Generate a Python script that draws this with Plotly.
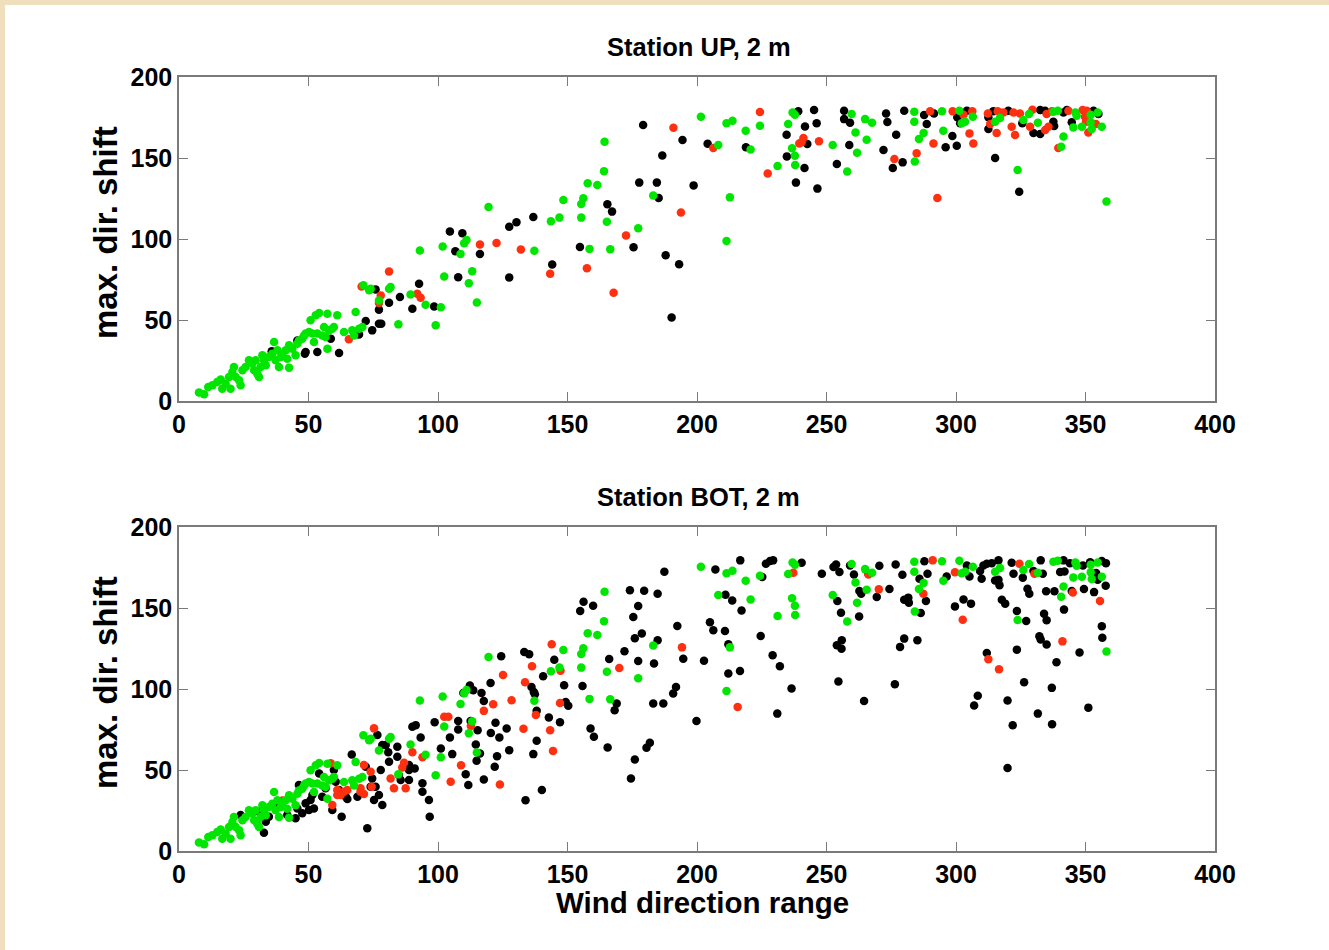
import plotly.graph_objects as go

# ---------------- data ----------------
# green series (identical in both panels)
GREEN = [
    (7.7,5.2),(9.7,4.1),(11.3,8.7),(12.9,9.7),(14.8,11.8),(16.1,13.2),(16.7,7.6),(18.0,10.7),(19.3,14.8),(19.9,7.6),
    (20.6,17.9),(21.2,21.0),(21.9,14.8),(23.2,12.8),(23.8,9.7),(24.5,19.0),(25.7,21.0),(27.0,25.1),(28.3,23.1),(29.0,19.0),
    (29.6,25.1),(30.2,16.9),(30.9,14.8),(31.5,21.0),(32.2,28.2),(32.8,25.1),(33.5,22.0),(34.7,27.2),(36.0,29.2),(36.7,36.4),
    (37.3,25.1),(38.0,31.3),(38.6,21.0),(39.3,27.2),(39.9,29.2),(41.2,31.3),(41.8,26.1),(42.5,34.4),(42.5,20.6),(43.8,32.3),
    (45.0,28.2),(45.7,35.4),(46.3,37.4),(47.6,38.5),(48.3,40.5),(48.9,41.6),(50.2,42.6),(50.8,49.8),(51.5,41.6),(52.1,36.4),
    (52.8,52.9),(53.4,41.6),(54.1,54.3),(55.3,40.5),(56.0,45.7),(56.6,39.5),(57.3,53.9),(57.3,32.3),(57.9,43.6),(59.2,44.6),
    (59.8,45.7),(61.1,52.9),(63.7,42.6),(66.9,43.6),(67.6,40.5),(68.2,54.9),(69.5,44.6),(70.8,45.7),(71.2,71.4),(73.4,68.3),
    (74.0,69.3),(77.2,62.1),(81.1,69.3),(81.7,70.3),(84.7,47.3),(89.4,65.8),(95.2,59.4),(99.1,46.7),
    (93.0,92.9),(101.1,57.9),(101.8,95.3),(102.4,76.8),(108.7,90.8),(110.1,97.4),(111.0,99.4),(111.9,72.7),(113.2,80.1),(115.0,60.8),
    (119.5,119.8),(137.2,92.7),(143.6,110.9),(146.9,113.2),(148.4,124.1),(155.3,113.2),(155.3,121.6),(156.1,125.1),(157.8,134.4),(158.5,93.9),
    (161.5,133.3),(164.1,141.8),(164.3,160.1),(165.2,110.7),(166.5,93.7),(177.3,106.6),(183.1,126.8),(201.5,175.5),(208.2,158.0),(211.4,98.8),
    (211.4,171.4),(212.7,125.7),(213.7,173.0),(218.8,166.8),(220.7,155.3),(224.3,169.9),(231.1,145.1),(235.2,171.0),(236.7,156.0),(236.9,178.1),
    (237.8,176.7),(237.8,151.4),(237.9,145.7),
    (259.7,177.1),(252.4,158.0),(258.0,141.6),(261.2,165.8),(261.8,153.3),(264.9,174.0),(265.5,161.3),(267.6,171.8),(283.9,178.6),(283.9,172.4),
    (284.1,147.9),(285.7,161.7),(287.5,165.4),(294.6,178.8),(295.1,166.8),(301.3,179.2),(302.2,171.4),(303.5,172.4),(306.5,175.5),(315.1,172.4),
    (317.0,174.7),(323.8,142.6),(326.0,173.4),(328.2,177.1),(331.6,171.8),(337.6,178.6),(339.3,179.2),(340.6,157.0),(341.5,163.3),(345.3,168.9),
    (346.1,178.1),(346.6,176.1),(348.6,169.3),(352.0,176.7),(352.0,172.0),(352.4,167.9),(354.7,178.1),(356.3,169.3),(358.1,123.1),
]

UP_BLACK = [
    (45.7,37.4),(48.9,30.2),(53.4,30.2),(58.6,38.5),(61.8,29.6),(69.5,41.1),(72.1,49.4),(74.6,43.6),(77.2,47.7),(78.1,47.7),
    (77.2,56.4),(75.9,68.9),(81.1,60.7),(85.3,64.2),(90.1,57.0),(92.7,72.4),(98.5,58.4),(35.8,30.7),(48.6,29.2),
    (104.6,104.6),(106.7,92.4),(107.8,76.4),(109.4,103.5),(116.2,90.8),(127.5,76.2),(127.5,107.5),(130.3,110.3),(136.8,113.6),(144.1,84.2),
    (154.8,95.1),(165.4,121.4),(167.2,116.9),(175.5,94.9),(177.7,134.8),(179.2,170.3),(184.5,134.8),(185.2,125.3),(186.6,151.6),(187.9,90.0),
    (190.2,51.6),(193.1,84.4),(194.4,161.1),(198.7,133.1),(204.1,158.8),(218.9,156.6),(234.6,164.4),(234.7,151.0),(238.2,134.8),(239.1,178.8),
    (241.7,169.5),(242.6,158.6),(241.5,143.8),(245.2,179.6),(246.2,171.4),(246.5,131.1),(254.0,146.3),(256.8,179.2),(256.8,174.0),(259.1,171.8),
    (258.8,158.0),(272.0,154.9),(273.0,177.5),(273.5,172.2),(276.9,164.4),(275.6,143.8),(279.4,147.3),(280.0,179.2),(287.7,176.5),(288.7,171.0),
    (291.5,177.5),(296.0,156.6),(298.6,163.6),(300.3,157.6),(300.5,175.1),(301.6,171.4),(304.2,179.2),(312.5,175.1),(312.5,167.9),(314.4,178.8),
    (315.1,150.0),(320.2,179.2),(324.4,129.2),(325.6,171.4),(329.9,165.4),(332.5,164.8),(332.5,179.6),(334.4,179.2),(337.9,169.7),(341.5,178.1),
    (342.8,179.6),(344.7,172.0),(353.1,179.2),(355.0,177.1),(337.6,172.4),
]

UP_RED = [
    (65.6,38.1),(70.5,70.7),(81.1,80.0),(77.9,65.2),(77.2,60.5),(92.0,66.2),(93.3,63.7),(116.2,96.6),(122.6,97.6),(132.0,93.5),
    (143.3,78.5),(157.5,82.0),(167.8,66.8),(172.6,102.1),(190.9,168.7),(193.8,116.3),(206.3,156.2),(224.3,178.4),(227.3,140.5),(239.5,159.0),
    (241.1,162.3),(240.4,159.7),(247.1,160.3),(276.2,149.4),(284.8,152.9),(290.0,178.8),(291.3,159.0),(292.8,125.3),(298.7,178.8),(302.9,176.7),
    (305.2,165.2),(306.3,178.8),(306.7,159.0),(312.3,177.5),(313.2,171.0),(315.7,165.4),(316.1,178.8),(318.3,178.1),(321.5,169.3),(322.2,178.1),
    (322.8,164.2),(324.7,177.5),(328.6,169.3),(329.5,179.8),(334.4,167.3),(335.0,177.1),(335.7,169.3),(337.0,178.8),(339.5,156.2),(343.4,179.2),
    (348.9,179.6),(350.5,179.2),(350.2,172.4),(351.1,165.8),(354.0,171.0),(349.8,175.5),
]

BOT_BLACK = [
    (23.8,22.2),(30.9,24.3),(32.8,11.3),(33.5,18.1),(34.7,21.2),(38.6,28.4),(41.8,22.2),(45.0,20.2),(45.7,26.3),(46.3,40.7),
    (47.6,23.3),(48.9,29.4),(50.2,25.3),(50.8,31.5),(51.5,34.6),(52.1,26.3),(54.1,47.9),(55.3,33.5),(56.6,38.7),(59.2,25.3),
    (59.8,50.0),(60.5,42.8),(61.8,37.6),(62.8,21.2),(64.4,33.5),(65.0,32.1),(66.7,59.6),(68.9,33.5),(72.1,52.0),(72.7,14.0),
    (74.0,39.7),(75.3,31.5),(75.9,39.7),(76.6,71.6),(77.2,34.6),(77.9,50.0),(78.5,65.4),(78.5,28.4),(79.8,65.4),(80.8,60.9),
    (81.1,55.1),(84.3,64.4),(84.3,58.2),(85.6,43.8),(88.8,43.8),(88.8,53.1),(90.1,76.7),(91.0,51.0),(91.4,77.7),(93.3,70.1),
    (94.0,41.8),(94.0,36.6),(96.5,31.5),(96.8,21.2),(88.8,50.0),(84.9,46.9),(74.6,44.8),
    (98.7,79.5),(101.1,63.3),(104.6,70.0),(105.5,59.8),(107.8,80.3),(107.8,75.0),(109.8,97.6),(110.7,47.4),(111.7,40.7),(112.3,102.1),
    (112.6,80.3),(113.6,99.2),(114.6,65.7),(114.9,55.7),(115.3,74.6),(116.2,60.2),(116.8,97.6),(117.7,92.6),(117.7,44.1),(120.3,103.7),
    (120.4,72.9),(121.9,52.0),(122.2,79.1),(122.8,58.5),(123.7,70.0),(124.4,120.2),(126.5,75.6),(127.5,62.2),(133.8,31.4),(133.3,122.9),
    (135.2,121.4),(136.1,101.3),(137.0,98.2),(137.4,96.8),(138.1,86.5),(136.8,59.8),(138.1,68.0),(140.1,37.6),(140.6,107.9),(142.8,82.4),
    (144.9,118.1),(147.1,79.5),(148.7,102.3),(149.3,92.0),(150.3,89.6),(154.9,148.1),(156.2,153.9),(155.8,101.9),(158.9,75.6),(159.9,151.4),
    (160.2,70.5),(165.5,63.9),(166.1,118.5),(168.2,86.9),(169.0,91.0),(172.0,123.3),(174.1,160.9),(174.5,44.8),(175.4,144.4),(176.0,56.5),
    (177.3,117.3),(177.3,151.2),(176.0,131.3),(178.7,134.2),(179.6,160.7),(180.5,63.7),(181.8,66.8),(183.1,91.0),(183.4,115.7),(184.8,130.1),
    (184.8,158.8),(187.0,91.0),(187.4,172.4),(190.8,97.2),(191.9,101.3),(192.4,138.9),(194.7,118.7),(199.8,80.3),(202.7,117.5),(205.0,141.2),
    (206.3,136.2),(207.1,173.8),(210.8,135.8),(211.0,158.2),(212.1,109.5),(212.1,127.6),(213.6,154.7),(216.6,111.1),(217.2,148.5),(216.7,179.4),
    (224.6,132.7),(225.2,169.1),(226.6,177.3),(228.2,179.0),(229.4,179.4),(229.2,120.8),(232.0,114.0),(231.0,84.8),(236.5,100.3),
    (240.4,177.9),(248.2,171.1),(252.7,175.3),(253.7,176.9),(255.0,172.2),(254.2,154.3),(255.6,147.1),(254.0,127.0),(255.9,130.1),(255.8,124.9),
    (254.6,104.6),(259.1,176.3),(260.6,170.7),(262.7,160.5),(263.4,158.8),(262.6,144.8),(264.5,92.6),(266.2,171.1),(269.4,156.8),(270.4,176.1),
    (274.3,161.7),(276.7,176.9),(276.4,102.9),(278.4,126.0),(279.3,170.5),(280.0,131.1),(280.0,155.1),(281.6,156.4),(281.8,153.3),(285.1,130.1),
    (285.9,168.1),(286.4,146.9),(287.8,178.8),(288.4,154.3),(289.0,171.1),(296.4,169.5),(299.6,151.0),(302.9,155.3),(304.2,176.3),(305.2,169.5),
    (305.8,152.7),(307.0,89.8),(308.4,95.9),(309.9,168.1),(309.3,172.8),(310.6,176.3),(311.9,177.3),(311.9,122.2),(313.8,177.7),(316.4,179.4),
    (315.1,167.0),(316.8,164.0),(316.4,167.5),(317.7,155.1),(319.0,152.7),(319.9,92.9),(319.9,51.3),(321.5,177.9),(321.9,77.6),(322.2,171.1),
    (323.5,148.1),(323.5,124.3),(325.8,168.7),(326.3,104.2),(327.1,142.0),(327.6,161.9),(328.3,158.8),(329.9,172.8),(331.6,84.8),(332.2,132.5),
    (332.7,130.5),(332.7,179.4),(333.5,171.1),(334.0,146.5),(335.0,142.4),(334.8,160.3),(335.0,127.4),(337.0,100.7),(337.1,78.3),(338.0,160.3),
    (338.8,116.5),(340.2,172.2),(341.5,179.4),(341.9,172.6),(341.7,149.0),(344.0,177.7),(344.7,160.5),(347.7,122.6),(349.0,176.3),(349.4,161.7),
    (351.1,88.5),(351.8,178.3),(353.3,159.8),(354.1,171.6),(354.7,167.5),(356.3,179.0),(356.3,138.7),(356.5,131.7),(357.9,177.7),(357.8,163.8),
]

BOT_RED = [
    (39.9,31.1),(58.6,54.1),(59.2,28.4),(61.1,37.6),(62.4,34.6),(63.7,36.6),(65.0,37.6),(70.1,36.6),(70.1,38.7),(71.4,35.2),
    (71.4,53.1),(74.0,48.9),(74.4,39.7),(75.3,75.7),(81.7,44.8),(83.0,38.7),(86.2,51.6),(86.9,54.5),(87.5,38.7),(90.1,60.9),
    (94.0,57.8),(61.1,34.6),
    (102.4,82.8),(104.0,82.8),(104.9,42.7),(108.9,53.0),(112.7,77.2),(117.7,86.5),(121.3,90.6),(123.9,41.1),(125.1,108.7),(128.4,93.1),
    (133.0,75.4),(133.6,104.2),(136.3,114.0),(137.8,84.0),(143.3,74.6),(143.9,127.6),(144.4,61.8),(147.1,91.4),(147.3,111.2),(170.0,113.0),
    (194.2,125.7),(215.7,88.9),(237.2,171.8),
    (266.2,170.7),(270.2,161.5),(287.4,158.8),(291.0,179.4),(299.6,172.0),(302.6,142.8),(312.5,118.3),(316.6,112.2),(324.5,177.3),(330.3,171.1),
    (341.1,129.4),(345.1,159.5),(355.6,154.3),
]

X_TICKS = [0, 50, 100, 150, 200, 250, 300, 350, 400]
Y_TICKS = [0, 50, 100, 150, 200]
TITLES = ["Station UP, 2 m", "Station BOT, 2 m"]
X_TITLE = "Wind direction range"
Y_TITLE = "max. dir. shift"

# ---------------- styling ----------------
W, H = 1329, 950
FONT = "Liberation Sans, Arial, Helvetica, sans-serif"
C_BLACK = "#000000"
C_RED = "#FF3010"
C_GREEN = "#00E600"
MS = 8.5

def px_x(p):
    return p / W

def px_y(p):
    return 1 - p / H

fig = go.Figure()

def add(series, color, xa, ya):
    fig.add_trace(go.Scatter(
        x=[p[0] for p in series], y=[p[1] for p in series],
        mode="markers", marker=dict(color=color, size=MS, line=dict(width=0)),
        xaxis=xa, yaxis=ya, showlegend=False, hoverinfo="x+y"))

add(UP_BLACK, C_BLACK, "x", "y")
add(UP_RED, C_RED, "x", "y")
add(GREEN, C_GREEN, "x", "y")
add(BOT_BLACK, C_BLACK, "x2", "y2")
add(BOT_RED, C_RED, "x2", "y2")
add(GREEN, C_GREEN, "x2", "y2")

axis_common = dict(
    showgrid=False, zeroline=False, showline=True, linecolor="#7a7a7a", linewidth=1.5,
    mirror="ticks", ticks="inside", ticklen=9, tickwidth=1.3, tickcolor="#7a7a7a",
    automargin=False,
    tickfont=dict(family=FONT, size=25, color="black", weight="bold"),
)

xd = [px_x(179), px_x(1215)]
fig.update_layout(
    xaxis=dict(domain=xd, range=[0, 400], tickvals=X_TICKS, anchor="y", **axis_common),
    yaxis=dict(domain=[px_y(401), px_y(77)], range=[0, 200], tickvals=Y_TICKS, anchor="x", **axis_common),
    xaxis2=dict(domain=xd, range=[0, 400], tickvals=X_TICKS, anchor="y2", **axis_common),
    yaxis2=dict(domain=[px_y(851), px_y(527)], range=[0, 200], tickvals=Y_TICKS, anchor="x2", **axis_common),
)

ann = []
for title, yc in zip(TITLES, [47, 497]):
    ann.append(dict(text=title, x=px_x(699), y=px_y(47 if yc == 47 else 497), xref="paper", yref="paper",
                    xanchor="center", yanchor="middle", showarrow=False,
                    font=dict(family=FONT, size=25.5, color="black", weight="bold")))
for yc in [233, 683]:
    ann.append(dict(text=Y_TITLE, x=px_x(105), y=px_y(yc), xref="paper", yref="paper",
                    xanchor="center", yanchor="middle", showarrow=False, textangle=-90,
                    font=dict(family=FONT, size=33, color="black", weight="bold")))
ann.append(dict(text=X_TITLE, x=px_x(702), y=px_y(902), xref="paper", yref="paper",
                xanchor="center", yanchor="middle", showarrow=False,
                font=dict(family=FONT, size=29.5, color="black", weight="bold")))

fig.update_layout(
    width=W, height=H, margin=dict(l=0, r=0, t=0, b=0, pad=0, autoexpand=False),
    paper_bgcolor="#EFDFBC", plot_bgcolor="white",
    annotations=ann,
    shapes=[dict(type="rect", xref="paper", yref="paper", x0=px_x(5), x1=1.0, y0=0.0, y1=px_y(5),
                 fillcolor="white", line=dict(width=0), layer="below")],
    showlegend=False,
)

fig.write_html("out.html", config={"displayModeBar": False},
               post_script="document.body.style.margin='0px';")
